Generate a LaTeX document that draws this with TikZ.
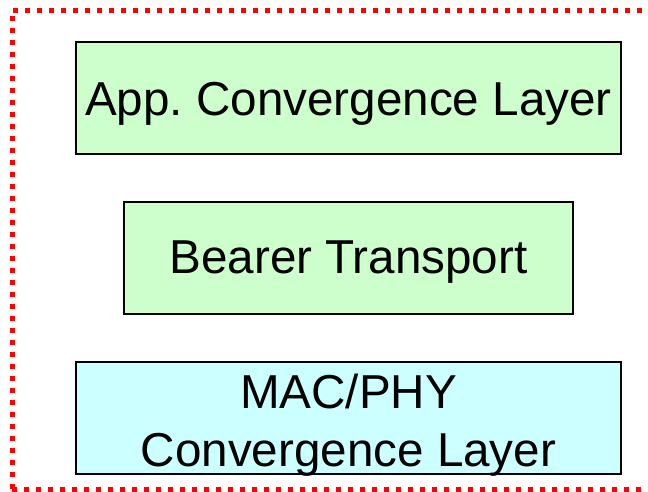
\documentclass[tikz,border=0pt]{standalone}
\usepackage{fontspec}
\setmainfont{Liberation Sans}
\frenchspacing
\definecolor{layergreen}{HTML}{CCFFCC}
\definecolor{layercyan}{HTML}{CCFFFF}
\begin{document}
\begin{tikzpicture}[x=1pt,y=1pt,
  layer/.style={draw=black, line width=1.5pt, inner sep=0pt},
  layertext/.style={font=\fontsize{47.6}{58}\selectfont, inner sep=0pt, anchor=base},
  frame/.style={draw=red, line width=5pt, dash pattern=on 5pt off 7pt}]
\useasboundingbox (0,0) rectangle (648,-491);
\begin{scope}
\clip (0,0) rectangle (648,-491);
\draw[frame] (12,-489) -- (12,-10) -- (660,-10);
\draw[frame] (12,-489) -- (660,-489);
\end{scope}
\node[layer, fill=layergreen, minimum width=545pt, minimum height=112pt] (app) at (348.5,-98) {};
\node[layer, fill=layergreen, minimum width=449pt, minimum height=112pt] (bearer) at (348.5,-258) {};
\node[layer, fill=layercyan, minimum width=545pt, minimum height=112pt] (mac) at (348.5,-418) {};
\node[layertext] (apptext) at (348.5,-115) {App.\ Convergence Layer};
\node[layertext] (bearertext) at (348.5,-273) {Bearer Transport};
\node[layertext] (mactext1) at (348.5,-408) {MAC/PHY};
\node[layertext] (mactext2) at (348.5,-466) {Convergence Layer};
\end{tikzpicture}
\end{document}
